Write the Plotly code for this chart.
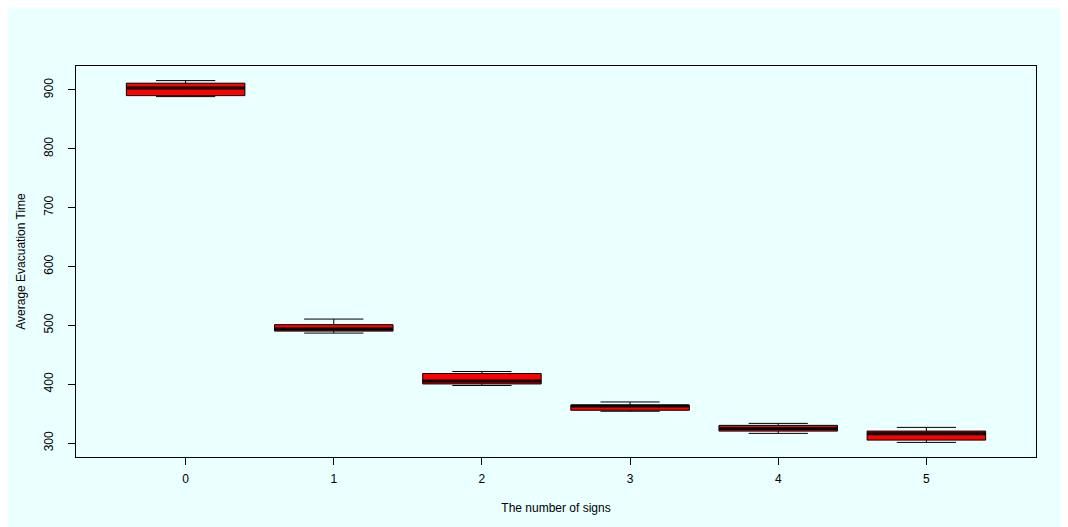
import plotly.graph_objects as go

signs = [0, 1, 2, 3, 4, 5]
lower_whisker = [888.6, 486.9, 397.8, 354.1, 316.5, 301.2]
q1 = [890.3, 490.3, 400.5, 355.8, 320.4, 305.1]
median = [903.4, 493.7, 405.6, 363.1, 325.0, 315.8]
q3 = [911.4, 501.2, 418.2, 364.8, 330.1, 320.4]
upper_whisker = [915.8, 510.7, 421.6, 369.9, 333.5, 326.7]
y_ticks = [300, 400, 500, 600, 700, 800, 900]

BG = "#EAFFFF"
FONT = "Liberation Sans, Arial, sans-serif"

fig = go.Figure()
fig.add_trace(go.Box(
    x=signs, q1=q1, median=median, q3=q3,
    lowerfence=lower_whisker, upperfence=upper_whisker,
    fillcolor="#FF0000", line=dict(color="#000000", width=1),
    width=0.8, whiskerwidth=0.5, boxpoints=False, showlegend=False,
    hoverinfo="y",
))
fig.add_trace(go.Scatter(
    x=signs, y=median, mode="markers",
    marker=dict(symbol="line-ew", size=84, line=dict(color="#000000", width=3)),
    showlegend=False, hoverinfo="skip",
))

fig.update_layout(
    width=1060, height=519,
    margin=dict(l=66, r=32, t=58, b=70),
    paper_bgcolor=BG, plot_bgcolor=BG,
    font=dict(family=FONT, size=12, color="#000000"),
    showlegend=False,
)
fig.update_xaxes(
    range=[-0.74, 5.74], tickmode="array", tickvals=signs, ticktext=[str(s) for s in signs],
    showgrid=False, zeroline=False, showline=True, linecolor="#000000", linewidth=1, mirror=True,
    ticks="outside", ticklen=7, tickcolor="#000000", ticklabelstandoff=4,
    title=dict(text="The number of signs", standoff=18, font=dict(size=12)),
)
fig.update_yaxes(
    range=[276.4, 940.6], tickmode="array", tickvals=y_ticks,
    showgrid=False, zeroline=False, showline=True, linecolor="#000000", linewidth=1, mirror=True,
    ticks="outside", ticklen=7, tickcolor="#000000", tickangle=-90, ticklabelstandoff=10,
    title=dict(text="Average Evacuation Time", standoff=14, font=dict(size=12)),
)

fig.write_html("out.html")
